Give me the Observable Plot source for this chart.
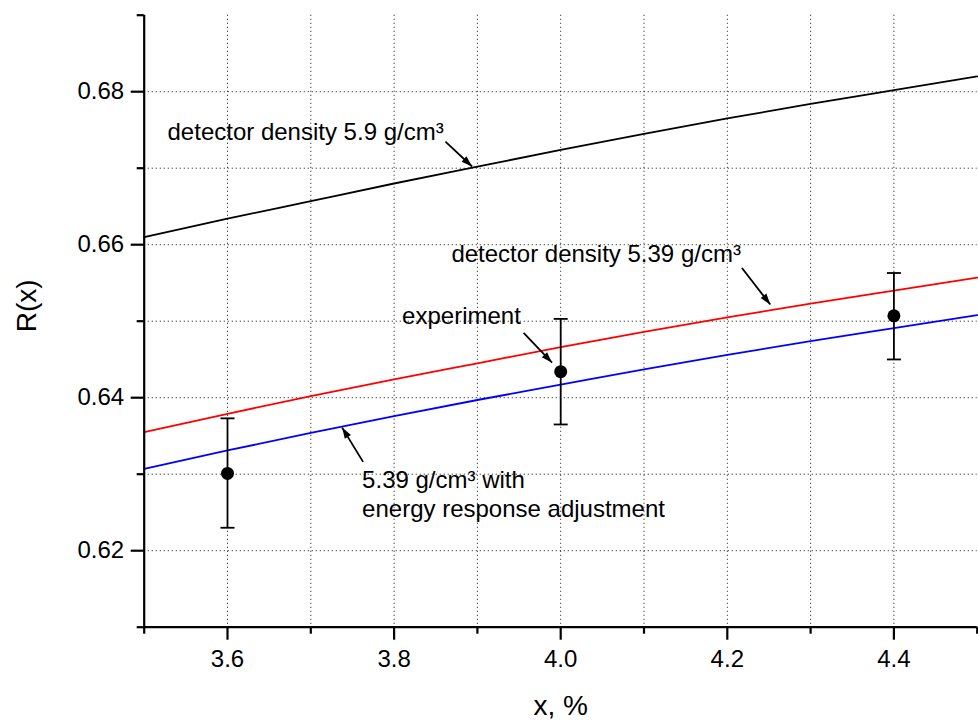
<!DOCTYPE html>
<html>
<head>
<meta charset="utf-8">
<script src="https://cdn.jsdelivr.net/npm/d3@7"></script>
<script src="https://cdn.jsdelivr.net/npm/@observablehq/plot@0.6"></script>
<style>
  html, body { margin: 0; padding: 0; background: white; }
</style>
</head>
<body>
<div id="chart"></div>
<script>
// ---- data ----
const xDomain = [3.5, 4.5];
const yDomain = [0.61, 0.69];

const curveX = [3.5, 3.6, 3.7, 3.8, 3.9, 4.0, 4.1, 4.2, 4.3, 4.4, 4.5];
const density59 = [0.6610, 0.6634, 0.6657, 0.6680, 0.6702, 0.6724, 0.6745, 0.6765, 0.6784, 0.6802, 0.6820];
const density539 = [0.6355, 0.6379, 0.6402, 0.6424, 0.6445, 0.6466, 0.6486, 0.6505, 0.6523, 0.6540, 0.6557];
const adjusted539 = [0.6307, 0.6331, 0.6354, 0.6376, 0.6397, 0.6417, 0.6437, 0.6456, 0.6474, 0.6491, 0.6508];

const expX = [3.6, 4.0, 4.4];
const expY = [0.6301, 0.6434, 0.6507];
const expLow = [0.6230, 0.6365, 0.6450];
const expHigh = [0.6373, 0.6503, 0.6563];

const xMajorTicks = [3.6, 3.8, 4.0, 4.2, 4.4];
const xMinorTicks = [3.5, 3.7, 3.9, 4.1, 4.3, 4.5];
const yMajorTicks = [0.62, 0.64, 0.66, 0.68];
const yMinorTicks = [0.61, 0.63, 0.65, 0.67, 0.69];
const xGridTicks = [3.6, 3.7, 3.8, 3.9, 4.0, 4.1, 4.2, 4.3, 4.4];
const yGridTicks = [0.62, 0.63, 0.64, 0.65, 0.66, 0.67, 0.68];

const labelTexts = ["detector density 5.9 g/cm³", "detector density 5.39 g/cm³", "experiment", "5.39 g/cm³ with", "energy response adjustment"];
const labelX = [3.528, 3.8688, 3.8096, 3.7616, 3.7616];
const labelY = [0.6737, 0.6578, 0.6496, 0.6282, 0.6244];

const arrowX1 = [3.8616, 4.2176, 3.9555, 3.7628];
const arrowY1 = [0.67348, 0.65696, 0.64848, 0.63161];
const arrowX2 = [3.8936, 4.2516, 3.9896, 3.7376];
const arrowY2 = [0.67022, 0.65218, 0.64457, 0.63609];

const xTitle = "x, %";
const yTitle = "R(x)";

// ---- tables built from arrays ----
const curves = [
  {values: density59, color: "black"},
  {values: density539, color: "#ff0000"},
  {values: adjusted539, color: "#0000ff"}
];
const curveRows = curves.flatMap((c, k) => curveX.map((x, i) => ({x, y: c.values[i], k, color: c.color})));
const expRows = expX.map((x, i) => ({x, y: expY[i], lo: expLow[i], hi: expHigh[i]}));
const labelRows = labelTexts.map((t, i) => ({t, x: labelX[i], y: labelY[i]}));
const arrowRows = arrowX1.map((x1, i) => ({x1, y1: arrowY1[i], x2: arrowX2[i], y2: arrowY2[i]}));

// filled arrowhead marker
function filledArrow(color) {
  const m = d3.create("svg:marker")
    .attr("viewBox", "-12 -6 12 12")
    .attr("markerWidth", 12)
    .attr("markerHeight", 12)
    .attr("markerUnits", "userSpaceOnUse")
    .attr("refX", 0).attr("refY", 0)
    .attr("orient", "auto");
  m.append("path").attr("d", "M-11,-3.6L0,0L-11,3.6Z").attr("fill", color).attr("stroke", "none");
  return m.node();
}

// horizontal cap symbol for error bars
const capSymbol = {
  draw(context, size) {
    const r = Math.sqrt(size / Math.PI);
    context.moveTo(-r, 0);
    context.lineTo(r, 0);
  }
};

const font = "'Liberation Sans', Arial, Helvetica, sans-serif";

const chart = Plot.plot({
  width: 978,
  height: 722,
  marginLeft: 143.7,
  marginRight: 1.3,
  marginTop: 14.7,
  marginBottom: 95.3,
  x: {domain: xDomain},
  y: {domain: yDomain},
  style: {fontFamily: font, background: "white", color: "black", overflow: "visible"},
  marks: [
    Plot.gridX(xGridTicks, {stroke: "#000", strokeOpacity: 0.8, strokeWidth: 1, strokeDasharray: "1.2,2.8"}),
    Plot.gridY(yGridTicks, {stroke: "#000", strokeOpacity: 0.8, strokeWidth: 1, strokeDasharray: "1.2,2.8"}),
    Plot.line(curveRows, {x: "x", y: "y", z: "k", stroke: "color", strokeWidth: 1.8, curve: "natural"}),
    Plot.ruleX(expRows, {x: "x", y1: "lo", y2: "hi", stroke: "black", strokeWidth: 1.8}),
    Plot.dot(expRows, {x: "x", y: "lo", symbol: capSymbol, r: 7, stroke: "black", strokeWidth: 1.8}),
    Plot.dot(expRows, {x: "x", y: "hi", symbol: capSymbol, r: 7, stroke: "black", strokeWidth: 1.8}),
    Plot.dot(expRows, {x: "x", y: "y", r: 6.5, fill: "black", stroke: "none"}),
    Plot.ruleX([xDomain[0]], {y1: yDomain[0], y2: yDomain[1], stroke: "black", strokeWidth: 2.2}),
    Plot.ruleY([yDomain[0]], {x1: xDomain[0], x2: xDomain[1], stroke: "black", strokeWidth: 2.2}),
    Plot.axisX(xMajorTicks, {tickSize: 13, tickPadding: 10, strokeWidth: 2.2, fontSize: 24, tickFormat: d3.format(".1f"), label: null}),
    Plot.axisX(xMinorTicks, {tickSize: 7, strokeWidth: 2.2, tickFormat: () => "", label: null}),
    Plot.axisY(yMajorTicks, {tickSize: 13, tickPadding: 7, strokeWidth: 2.2, fontSize: 24, tickFormat: d3.format(".2f"), label: null}),
    Plot.axisY(yMinorTicks, {tickSize: 7, strokeWidth: 2.2, tickFormat: () => "", label: null}),
    Plot.text([xTitle], {text: d => d, frameAnchor: "bottom", dy: 88, lineAnchor: "bottom", fontSize: 28}),
    Plot.text([yTitle], {text: d => d, frameAnchor: "left", rotate: -90, dx: -108, dy: 11, lineAnchor: "bottom", fontSize: 28}),
    Plot.text(labelRows, {x: "x", y: "y", text: "t", textAnchor: "start", lineAnchor: "bottom", fontSize: 24, fill: "black"}),
    Plot.link(arrowRows, {x1: "x1", y1: "y1", x2: "x2", y2: "y2", stroke: "black", strokeWidth: 1.8, markerEnd: filledArrow})
  ]
});

document.getElementById("chart").appendChild(chart);
</script>
</body>
</html>
